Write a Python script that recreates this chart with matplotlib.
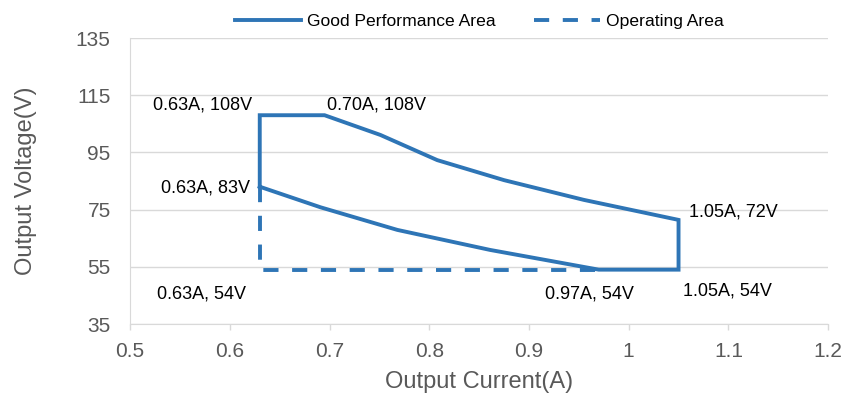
import matplotlib.pyplot as plt

plt.rcParams['font.family'] = ['Liberation Sans', 'DejaVu Sans']

# good performance area (closed outline)
good_i = [0.63, 0.63, 0.695, 0.751, 0.808, 0.875, 0.955, 1.05, 1.05, 0.97, 0.861, 0.768, 0.691, 0.63]
good_v = [83, 108, 108, 101.1, 92.3, 85.3, 78.4, 71.4, 54, 54, 60.9, 67.9, 75.8, 83]

# operating area (dashed part)
op_i = [0.63, 0.63, 0.97]
op_v = [83, 54, 54]

labels = ['0.63A, 108V', '0.70A, 108V', '0.63A, 83V', '0.63A, 54V',
          '0.97A, 54V', '1.05A, 54V', '1.05A, 72V']
label_x = [0.622, 0.697, 0.620, 0.527, 0.916, 1.054, 1.060]
label_y = [111.6, 111.6, 82.6, 45.5, 45.5, 46.5, 74.0]
label_ha = ['right', 'left', 'right', 'left', 'left', 'left', 'left']

color = '#2E75B6'

fig = plt.figure(figsize=(8.45, 4), dpi=100)
ax = fig.add_axes([0.154, 0.19, 0.826, 0.715])

ax.plot(good_i, good_v, '-', color=color, lw=2.8, label='Good Performance Area',
        solid_joinstyle='miter')
ax.plot(op_i, op_v, '--', color=color, lw=2.8, dashes=(3.9, 3.5), label='Operating Area')

for t, x, y, ha in zip(labels, label_x, label_y, label_ha):
    ax.text(x, y, t, ha=ha, va='center', fontsize=13, color='black')

ax.set_xlim(0.5, 1.2)
ax.set_ylim(35, 135)
ax.set_xticks([0.5, 0.6, 0.7, 0.8, 0.9, 1.0, 1.1, 1.2])
ax.set_xticklabels(['0.5', '0.6', '0.7', '0.8', '0.9', '1', '1.1', '1.2'])
ax.set_yticks([35, 55, 75, 95, 115, 135])
ax.grid(axis='y', color='#D9D9D9', lw=1)
ax.set_axisbelow(True)
for s in ['top', 'right']:
    ax.spines[s].set_visible(False)
ax.spines['left'].set_color('#D9D9D9')
ax.spines['bottom'].set_color('#D9D9D9')
ax.tick_params(axis='both', colors='#D9D9D9', labelcolor='#595959', labelsize=15)
ax.tick_params(axis='y', length=0, pad=14)
ax.tick_params(axis='x', direction='out', length=4, width=1, pad=9)

ax.set_xlabel('Output Current(A)', fontsize=17, color='#595959', labelpad=7)
ax.set_ylabel('Output Voltage(V)', fontsize=17, color='#595959', labelpad=28)

ax.legend(loc='lower center', bbox_to_anchor=(0.5, 0.975), ncol=2, frameon=False,
          fontsize=12.6, handlelength=3.8, columnspacing=2.2, handletextpad=0.3)

fig.savefig('out.png', dpi=100)
